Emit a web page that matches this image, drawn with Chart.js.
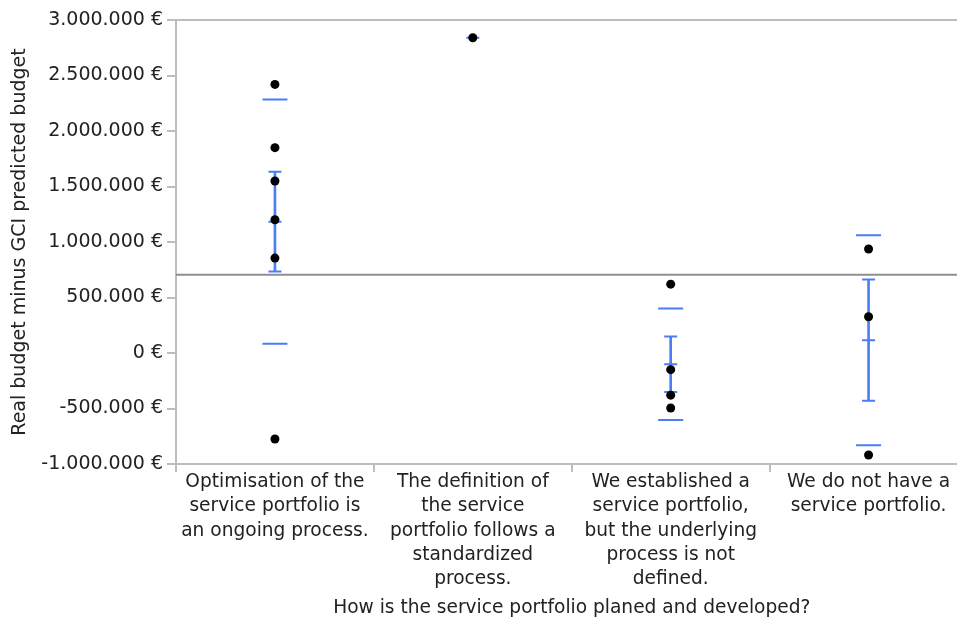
<!DOCTYPE html>
<html>
<head>
<meta charset="utf-8">
<script src="https://cdn.jsdelivr.net/npm/chart.js@4"></script>
<style>
  html, body { margin: 0; padding: 0; background: #fff; overflow: hidden; }
  #wrap { width: 957px; height: 620px; overflow: hidden; }
  #chart { display: block; }
</style>
</head>
<body>
<div id="wrap"><canvas id="chart" width="982" height="620"></canvas></div>
<script>
// categories (answers), one entry per label line
const categories = [
    ['Optimisation of the', 'service portfolio is', 'an ongoing process.'],
    ['The definition of', 'the service', 'portfolio follows a', 'standardized', 'process.'],
    ['We established a', 'service portfolio,', 'but the underlying', 'process is not', 'defined.'],
    ['We do not have a', 'service portfolio.']
];

// real budget minus GCI predicted budget, per answer
const ongoingValues = [2420000, 1850000, 1550000, 1200000, 855000, -775000];
const standardizedValues = [2840000];
const undefinedValues = [620000, -150000, -380000, -495000];
const noPortfolioValues = [937000, 327000, -919000];

const yTicks = [-1000000, -500000, 0, 500000, 1000000, 1500000, 2000000, 2500000, 3000000];

const groups = [ongoingValues, standardizedValues, undefinedValues, noPortfolioValues];
const labels = categories.map(c => c.join(' '));

// mean, std dev, std error per group
const stats = groups.map(g => {
    const n = g.length;
    const mean = g.reduce((a, b) => a + b, 0) / n;
    const sd = n > 1 ? Math.sqrt(g.reduce((a, b) => a + (b - mean) ** 2, 0) / (n - 1)) : 0;
    return { n, mean, sd, se: sd / Math.sqrt(n) };
});
const allValues = groups.flat();
const grandMean = allValues.reduce((a, b) => a + b, 0) / allValues.length;

const points = [];
groups.forEach((g, i) => g.forEach(v => points.push({ x: labels[i], y: v })));

const sdMarks = [], capMarks = [], errBars = [];
stats.forEach((s, i) => {
    const x = labels[i];
    if (s.n > 1) {
        sdMarks.push({ x, y: s.mean + s.sd }, { x, y: s.mean - s.sd });
        capMarks.push({ x, y: s.mean + s.se }, { x, y: s.mean - s.se });
        errBars.push([s.mean - s.se, s.mean + s.se]);
    } else {
        errBars.push(null);
    }
    capMarks.push({ x, y: s.mean });
});

const blue = '#4a7ef5';
const axisGray = '#bdbdbd';
const textColor = '#222';
const font = { family: 'DejaVu Sans', size: 19 };
const xFont = { family: 'DejaVu Sans', size: 18.6 };

function euro(v) {
    const s = String(Math.abs(v)).replace(/\B(?=(\d{3})+(?!\d))/g, '.');
    return (v < 0 ? '-' : '') + s + ' €';
}

// top frame line and grand mean line
const framePlugin = {
    id: 'framePlugin',
    beforeDatasetsDraw(chart) {
        const { ctx, chartArea: a, scales: { y } } = chart;
        ctx.save();
        ctx.strokeStyle = axisGray;
        ctx.lineWidth = 2;
        ctx.beginPath();
        ctx.moveTo(a.left, a.top);
        ctx.lineTo(a.right, a.top);
        ctx.stroke();
        const gy = y.getPixelForValue(grandMean);
        ctx.strokeStyle = '#8f8f8f';
        ctx.lineWidth = 2;
        ctx.beginPath();
        ctx.moveTo(a.left, gy);
        ctx.lineTo(a.right, gy);
        ctx.stroke();
        ctx.restore();
    }
};

new Chart(document.getElementById('chart'), {
    type: 'bar',
    data: {
        labels: labels,
        datasets: [
            {
                type: 'line',
                data: points,
                showLine: false,
                pointRadius: 4.5,
                pointBackgroundColor: '#000',
                pointBorderWidth: 0,
                order: 0
            },
            {
                type: 'line',
                data: sdMarks,
                showLine: false,
                pointStyle: 'line',
                pointRadius: 12.5,
                pointBorderColor: blue,
                pointBorderWidth: 2,
                order: 2
            },
            {
                type: 'line',
                data: capMarks,
                showLine: false,
                pointStyle: 'line',
                pointRadius: 6.5,
                pointBorderColor: blue,
                pointBorderWidth: 2,
                order: 2
            },
            {
                type: 'bar',
                data: errBars,
                backgroundColor: blue,
                barThickness: 2,
                borderWidth: 0,
                order: 3
            }
        ]
    },
    options: {
        responsive: false,
        animation: false,
        events: [],
        layout: { padding: { top: 20, right: 0, left: 0, bottom: 0 } },
        plugins: { legend: { display: false }, tooltip: { enabled: false } },
        scales: {
            x: {
                type: 'category',
                offset: true,
                grid: { offset: true, drawOnChartArea: false, tickLength: 8, color: axisGray, lineWidth: 2 },
                border: { color: axisGray, width: 2 },
                ticks: {
                    color: textColor,
                    font: { ...xFont, lineHeight: 1.31 },
                    maxRotation: 0,
                    autoSkip: false,
                    padding: -2,
                    callback: (v, i) => categories[i]
                },
                title: { display: true, text: 'How is the service portfolio planed and developed?', color: textColor, font: xFont, padding: { top: 0, bottom: 1 } },
                afterFit(scale) {
                    scale.height = 156;
                    scale.paddingLeft = 0;
                    scale.paddingRight = 0;
                }
            },
            y: {
                min: -1000000,
                max: 3000000,
                afterBuildTicks(scale) { scale.ticks = yTicks.map(v => ({ value: v })); },
                grid: { drawOnChartArea: false, tickLength: 9, color: axisGray, lineWidth: 2 },
                border: { color: axisGray, width: 2 },
                ticks: { color: textColor, font, padding: 4, callback: v => euro(v) },
                title: { display: true, text: 'Real budget minus GCI predicted budget', color: textColor, font, padding: { top: 9, bottom: 0 } },
                afterFit(scale) { scale.width = 176; }
            }
        }
    },
    plugins: [framePlugin]
});
</script>
</body>
</html>
